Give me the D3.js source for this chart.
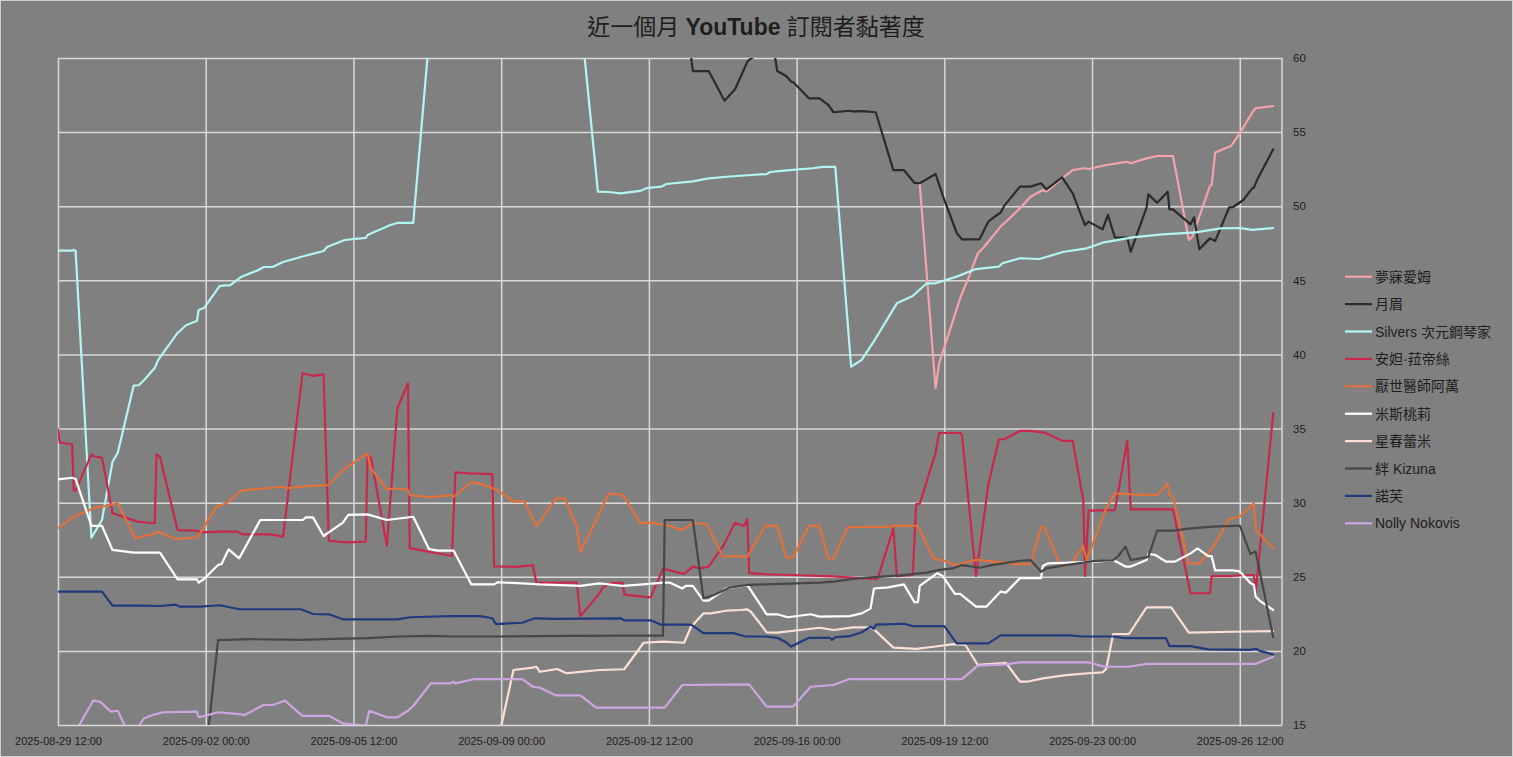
<!DOCTYPE html>
<html><head><meta charset="utf-8">
<script src="https://cdn.jsdelivr.net/npm/d3@7"></script>
<style>html,body{margin:0;padding:0;background:#808080;} svg{display:block;}</style>
</head><body><svg id="chart" width="1513" height="757"></svg>
<script>
const seriesNames = ["夢寐愛姆","月眉","Silvers 次元鋼琴家","安妲·菈帝絲","厭世醫師阿萬","米斯桃莉","星春蕾米","絆 Kizuna","諾芙","Nolly Nokovis"];
const seriesColors = ["#f4a3ac","#2b2b2b","#b3f5f5","#c8294a","#e3703a","#ffffff","#fde0d5","#474747","#1f3a7d","#cfa4e2"];

const dreammy = [["09-18 22",51.55],["09-19 07",37.72],["09-19 09",39.4],["09-19 17",42.32],["09-19 21",43.79],["09-20 02",45.25],["09-20 07",46.82],["09-20 10",47.16],["09-20 20",48.62],["09-20 21",48.73],["09-21 07",49.86],["09-21 13",50.64],["09-21 20",51.09],["09-21 22",50.98],["09-22 07",51.88],["09-22 13",52.44],["09-22 19",52.56],["09-22 22",52.51],["09-23 08",52.78],["09-23 20",53.0],["09-23 22",52.9],["09-24 07",53.23],["09-24 13",53.39],["09-24 22",53.39],["09-25 07",47.72],["09-25 09",47.94],["09-25 19",51.36],["09-25 20",51.43],["09-25 22",53.62],["09-26 07",54.06],["09-26 12",54.92],["09-26 19",56.31],["09-26 21",56.61],["09-27 07",56.76]];

const yuemei = [["09-13 11",61.0],["09-13 13",59.12],["09-13 22",59.12],["09-14 07",57.12],["09-14 13",57.89],["09-14 20",59.75],["09-14 21",59.87],["09-15 00",60.1],["09-15 06",61.0],["09-15 11",60.6],["09-15 13",59.12],["09-15 18",58.79],["09-15 21",58.4],["09-15 22",58.38],["09-16 07",57.28],["09-16 13",57.28],["09-16 18",56.83],["09-16 21",56.34],["09-17 06",56.44],["09-17 08",56.4],["09-17 13",56.42],["09-17 21",56.34],["09-18 07",52.44],["09-18 13",52.44],["09-18 19",51.57],["09-18 22",51.55],["09-19 07",52.17],["09-19 12",50.42],["09-19 19",48.21],["09-19 22",47.77],["09-20 08",47.77],["09-20 13",48.96],["09-20 18",49.41],["09-20 20",49.57],["09-20 22",50.02],["09-21 07",51.32],["09-21 13",51.32],["09-21 19",51.55],["09-21 22",51.14],["09-22 07",51.95],["09-22 13",50.87],["09-22 20",48.73],["09-22 22",48.96],["09-23 06",48.44],["09-23 09",49.41],["09-23 13",47.88],["09-23 20",47.88],["09-23 22",46.93],["09-24 07",49.93],["09-24 08",50.8],["09-24 13",50.24],["09-24 19",50.98],["09-24 20",49.79],["09-24 22",49.79],["09-25 08",48.77],["09-25 10",49.25],["09-25 13",47.09],["09-25 19",47.83],["09-25 22",47.65],["09-26 06",49.93],["09-26 08",49.93],["09-26 14",50.42],["09-26 19",51.2],["09-26 20",51.25],["09-26 22",51.82],["09-27 07",53.84]];

const silvers = [["08-29 12",47.0],["08-29 20",47.0],["08-29 21",47.05],["08-29 22",47.0],["08-30 07",27.64],["08-30 13",28.83],["08-30 19",32.76],["08-30 22",33.37],["08-31 07",37.89],["08-31 10",37.92],["08-31 13",38.28],["08-31 19",39.09],["08-31 21",39.63],["09-01 08",41.45],["09-01 13",41.99],["09-01 19",42.26],["09-01 20",43.0],["09-01 23",43.13],["09-02 08",44.62],["09-02 14",44.68],["09-02 20",45.22],["09-03 06",45.7],["09-03 09",45.9],["09-03 14",45.9],["09-03 20",46.24],["09-04 08",46.64],["09-04 19",46.98],["09-04 21",47.25],["09-05 07",47.72],["09-05 19",47.86],["09-05 20",48.06],["09-06 09",48.73],["09-06 13",48.87],["09-06 22",48.87],["09-07 07",61.3],["09-09 00",63.0],["09-10 18",66.6],["09-11 07",50.98],["09-11 13",50.96],["09-11 20",50.87],["09-12 07",51.03],["09-12 11",51.23],["09-12 19",51.32],["09-12 22",51.5],["09-13 13",51.68],["09-13 21",51.86],["09-14 08",51.99],["09-14 20",52.09],["09-15 07",52.17],["09-15 09",52.31],["09-15 20",52.44],["09-16 09",52.56],["09-16 15",52.65],["09-16 22",52.65],["09-17 07",39.17],["09-17 13",39.63],["09-17 21",41.09],["09-18 09",43.45],["09-18 13",43.67],["09-18 18",43.94],["09-19 02",44.8],["09-19 07",44.8],["09-19 19",45.25],["09-20 06",45.76],["09-20 19",45.92],["09-20 21",46.15],["09-21 07",46.49],["09-21 18",46.44],["09-22 08",46.93],["09-22 21",47.16],["09-23 06",47.54],["09-23 23",47.9],["09-24 16",48.1],["09-25 11",48.24],["09-26 01",48.51],["09-26 12",48.53],["09-26 19",48.4],["09-27 07",48.53]];

const anda = [["08-29 12",34.96],["08-29 13",34.06],["08-29 20",33.94],["08-29 21",30.81],["08-29 22",30.81],["08-30 07",33.26],["08-30 08",33.15],["08-30 13",33.03],["08-30 19",29.3],["08-31 09",28.72],["08-31 19",28.61],["08-31 20",33.26],["08-31 22",33.1],["09-01 08",28.15],["09-01 19",28.11],["09-01 21",28.0],["09-02 08",28.04],["09-02 18",28.04],["09-02 21",27.86],["09-03 13",27.86],["09-03 20",27.7],["09-04 07",38.73],["09-04 13",38.55],["09-04 19",38.66],["09-04 22",27.43],["09-05 08",27.32],["09-05 19",27.37],["09-05 20",33.2],["09-05 22",33.0],["09-06 07",27.1],["09-06 13",36.37],["09-06 19",38.06],["09-06 20",26.93],["09-07 20",26.4],["09-07 22",32.05],["09-08 06",31.98],["09-08 19",31.93],["09-08 20",25.7],["09-09 09",25.67],["09-09 18",25.79],["09-09 20",24.6],["09-10 19",24.6],["09-10 21",22.33],["09-11 08",23.9],["09-11 10",24.3],["09-11 14",24.55],["09-11 21",24.6],["09-11 22",23.8],["09-12 10",23.64],["09-12 13",23.61],["09-12 20",25.55],["09-13 08",25.19],["09-13 13",25.69],["09-13 17",25.57],["09-13 22",25.69],["09-14 06",27.03],["09-14 13",28.65],["09-14 18",28.43],["09-14 20",28.9],["09-14 21",25.24],["09-15 07",25.17],["09-15 20",25.12],["09-16 21",25.03],["09-17 12",24.9],["09-17 22",24.85],["09-18 07",28.27],["09-18 09",25.04],["09-18 18",25.12],["09-18 20",29.9],["09-18 22",29.92],["09-19 07",33.37],["09-19 09",34.7],["09-19 21",34.7],["09-19 22",34.6],["09-20 06",25.04],["09-20 13",31.2],["09-20 19",34.28],["09-20 22",34.28],["09-21 07",34.84],["09-21 13",34.84],["09-21 21",34.72],["09-22 07",34.17],["09-22 13",34.17],["09-22 19",30.18],["09-22 20",25.06],["09-22 22",29.46],["09-23 13",29.5],["09-23 20",34.17],["09-23 22",29.55],["09-24 22",29.55],["09-25 08",23.89],["09-25 19",23.89],["09-25 20",25.04],["09-26 07",25.04],["09-26 13",25.12],["09-26 20",25.12],["09-26 21",23.89],["09-27 07",36.02]];

const yanshi = [["08-29 12",28.27],["08-29 21",29.05],["08-30 08",29.61],["08-30 22",29.96],["08-31 08",27.59],["08-31 11",27.7],["08-31 18",27.88],["08-31 21",28.04],["09-01 07",27.55],["09-01 19",27.64],["09-01 21",27.97],["09-02 06",29.73],["09-02 12",29.96],["09-02 20",30.81],["09-03 07",30.94],["09-03 20",31.08],["09-03 22",30.97],["09-04 09",31.12],["09-04 22",31.19],["09-05 07",32.31],["09-05 12",32.69],["09-05 20",33.33],["09-05 22",32.31],["09-06 07",30.87],["09-06 11",30.97],["09-06 19",30.87],["09-06 20",30.5],["09-07 08",30.37],["09-07 19",30.5],["09-07 21",30.4],["09-08 07",31.39],["09-08 13",31.25],["09-08 22",30.85],["09-09 07",30.07],["09-09 13",30.11],["09-09 20",28.4],["09-10 07",30.25],["09-10 12",30.31],["09-10 19",28.43],["09-10 21",26.65],["09-11 07",29.09],["09-11 13",30.58],["09-11 19",30.58],["09-11 22",30.4],["09-12 07",28.61],["09-12 13",28.65],["09-12 22",28.49],["09-13 07",28.15],["09-13 13",28.61],["09-13 21",28.56],["09-14 06",26.36],["09-14 12",26.4],["09-14 20",26.36],["09-15 06",28.43],["09-15 13",28.43],["09-15 18",26.31],["09-15 22",26.31],["09-16 07",28.43],["09-16 13",28.43],["09-16 18",26.24],["09-16 21",26.24],["09-17 05",28.34],["09-18 05",28.38],["09-18 07",28.45],["09-18 21",28.43],["09-19 06",26.24],["09-19 12",26.08],["09-19 19",25.77],["09-20 05",26.13],["09-20 08",26.13],["09-20 16",26.02],["09-20 23",25.95],["09-21 05",25.84],["09-21 13",25.84],["09-21 19",28.34],["09-21 21",28.34],["09-22 06",25.79],["09-22 09",25.75],["09-22 13",26.02],["09-22 19",27.08],["09-22 21",26.13],["09-23 08",29.61],["09-23 13",30.63],["09-23 23",30.56],["09-24 13",30.51],["09-24 19",31.3],["09-24 20",30.51],["09-24 22",30.4],["09-25 07",25.9],["09-25 13",25.9],["09-25 21",27.03],["09-26 06",28.9],["09-26 12",29.07],["09-26 20",29.96],["09-26 21",28.18],["09-27 07",26.92]];

const misi = [["08-29 12",31.57],["08-29 20",31.68],["08-29 22",31.6],["08-30 07",28.43],["08-30 13",28.43],["08-30 19",26.81],["08-31 07",26.63],["08-31 22",26.63],["09-01 08",24.83],["09-01 19",24.83],["09-01 20",24.6],["09-01 23",24.85],["09-02 07",25.79],["09-02 09",25.86],["09-02 13",26.85],["09-02 19",26.24],["09-03 07",28.83],["09-04 07",28.83],["09-04 09",29.01],["09-04 13",29.01],["09-04 19",27.75],["09-05 06",28.65],["09-05 09",29.17],["09-05 20",29.21],["09-06 07",28.83],["09-06 22",29.05],["09-07 07",26.86],["09-07 12",26.76],["09-07 21",26.76],["09-08 07",24.49],["09-08 20",24.49],["09-08 22",24.63],["09-09 12",24.56],["09-09 22",24.49],["09-10 21",24.39],["09-11 08",24.56],["09-11 21",24.38],["09-12 07",24.47],["09-12 20",24.6],["09-13 00",24.6],["09-13 07",24.21],["09-13 09",24.38],["09-13 13",24.38],["09-13 19",23.39],["09-13 22",23.39],["09-14 08",24.21],["09-14 20",24.43],["09-15 07",22.47],["09-15 13",22.47],["09-15 19",22.27],["09-16 08",22.47],["09-16 13",22.31],["09-17 06",22.35],["09-17 13",22.53],["09-17 18",22.85],["09-17 20",24.21],["09-18 04",24.28],["09-18 13",24.49],["09-18 19",23.29],["09-18 21",23.29],["09-18 22",24.38],["09-19 08",25.24],["09-19 11",25.06],["09-19 18",23.84],["09-19 21",23.84],["09-20 06",22.99],["09-20 12",22.99],["09-20 20",24.0],["09-20 23",23.93],["09-21 07",24.91],["09-21 19",24.91],["09-21 20",25.73],["09-21 23",25.91],["09-23 03",26.02],["09-23 12",26.13],["09-23 19",25.69],["09-23 22",25.69],["09-24 07",26.13],["09-24 08",26.54],["09-24 12",26.47],["09-24 18",26.02],["09-24 23",26.02],["09-25 08",26.58],["09-25 12",26.92],["09-25 18",26.4],["09-25 20",26.4],["09-25 22",25.43],["09-26 08",25.43],["09-26 12",25.36],["09-26 18",24.58],["09-26 20",24.46],["09-26 21",23.66],["09-27 00",23.32],["09-27 07",22.76]];

const xingchun = [["09-08 21",13.3],["09-09 07",18.71],["09-09 18",18.87],["09-09 20",18.93],["09-09 22",18.59],["09-10 08",18.78],["09-10 13",18.49],["09-10 21",18.59],["09-11 08",18.71],["09-11 22",18.76],["09-12 09",20.55],["09-12 20",20.62],["09-13 08",20.55],["09-13 12",21.63],["09-13 19",22.53],["09-13 23",22.53],["09-14 08",22.71],["09-14 16",22.76],["09-14 20",22.8],["09-14 22",22.64],["09-15 07",21.25],["09-15 13",21.23],["09-16 02",21.41],["09-16 13",21.56],["09-16 21",21.41],["09-17 08",21.59],["09-17 18",21.59],["09-17 20",21.45],["09-18 07",20.22],["09-18 20",20.13],["09-19 06",20.28],["09-19 17",20.46],["09-20 00",20.4],["09-20 07",19.05],["09-20 23",19.2],["09-21 07",17.92],["09-21 11",17.92],["09-21 20",18.15],["09-22 09",18.37],["09-22 22",18.49],["09-23 06",18.55],["09-23 08",18.78],["09-23 12",21.14],["09-23 21",21.14],["09-24 07",22.94],["09-24 21",22.94],["09-25 07",21.23],["09-26 08",21.29],["09-27 07",21.34]];

const kizuna = [["09-02 00",13.0],["09-02 07",20.72],["09-03 01",20.79],["09-04 06",20.74],["09-05 01",20.81],["09-05 20",20.86],["09-06 14",20.97],["09-07 09",21.01],["09-07 19",20.97],["09-08 23",20.97],["09-10 13",21.01],["09-12 03",21.03],["09-12 20",21.03],["09-12 21",28.83],["09-13 13",28.83],["09-13 19",23.55],["09-14 01",23.77],["09-14 10",24.27],["09-14 20",24.45],["09-15 07",24.49],["09-16 13",24.6],["09-16 21",24.67],["09-17 08",24.85],["09-17 16",24.94],["09-18 11",25.1],["09-19 02",25.28],["09-19 09",25.46],["09-19 17",25.57],["09-19 22",25.79],["09-20 08",25.61],["09-20 15",25.79],["09-21 07",26.08],["09-21 13",26.13],["09-21 19",25.34],["09-21 22",25.57],["09-22 09",25.79],["09-23 01",26.06],["09-23 12",26.13],["09-23 15",26.4],["09-23 19",27.03],["09-23 22",26.13],["09-24 07",26.31],["09-24 08",26.36],["09-24 13",28.11],["09-24 22",28.11],["09-25 08",28.27],["09-25 21",28.38],["09-26 12",28.45],["09-26 18",26.54],["09-26 21",26.7],["09-27 07",20.93]];

const nuofu = [["08-29 12",24.0],["08-30 13",24.0],["08-30 19",23.05],["08-31 11",23.05],["08-31 22",23.03],["09-01 07",23.12],["09-01 09",22.99],["09-01 21",22.99],["09-02 08",23.08],["09-02 19",22.81],["09-04 06",22.81],["09-04 13",22.49],["09-04 22",22.47],["09-05 06",22.13],["09-06 13",22.13],["09-06 20",22.27],["09-07 19",22.35],["09-08 12",22.35],["09-08 19",22.2],["09-08 21",21.81],["09-09 12",21.9],["09-09 19",22.2],["09-10 06",22.16],["09-11 20",22.2],["09-11 22",22.06],["09-12 13",22.06],["09-12 19",21.77],["09-13 12",21.77],["09-13 19",21.2],["09-14 12",21.2],["09-14 19",20.97],["09-15 07",20.97],["09-15 13",20.88],["09-15 18",20.58],["09-15 21",20.29],["09-16 07",20.88],["09-16 19",20.88],["09-16 20",20.74],["09-16 22",20.92],["09-17 06",20.99],["09-17 13",21.26],["09-17 18",21.64],["09-17 20",21.49],["09-17 21",21.77],["09-18 13",21.83],["09-18 18",21.67],["09-19 12",21.67],["09-19 19",20.51],["09-20 13",20.51],["09-20 20",21.05],["09-22 12",21.05],["09-22 18",20.97],["09-23 12",20.97],["09-23 18",20.86],["09-24 18",20.86],["09-24 20",20.32],["09-25 08",20.32],["09-25 18",20.1],["09-26 18",20.07],["09-26 21",20.14],["09-27 00",19.98],["09-27 07",19.76]];

const nolly = [["08-29 12",12.5],["08-30 08",16.64],["08-30 12",16.57],["08-30 18",15.9],["08-30 22",15.96],["08-31 05",14.2],["08-31 13",15.45],["08-31 19",15.72],["09-01 00",15.86],["09-01 19",15.9],["09-01 20",15.52],["09-02 01",15.67],["09-02 07",15.86],["09-02 19",15.74],["09-02 22",15.67],["09-03 09",16.35],["09-03 14",16.35],["09-03 21",16.64],["09-04 07",15.62],["09-04 22",15.62],["09-05 06",15.11],["09-05 19",14.95],["09-05 21",15.96],["09-06 07",15.52],["09-06 13",15.52],["09-06 19",15.96],["09-06 22",16.28],["09-07 08",17.81],["09-07 19",17.81],["09-07 21",17.92],["09-07 22",17.81],["09-08 09",18.1],["09-09 12",18.1],["09-09 18",17.58],["09-09 22",17.52],["09-10 07",17.0],["09-10 21",17.0],["09-11 06",16.17],["09-12 21",16.17],["09-13 07",17.7],["09-14 21",17.74],["09-15 07",16.24],["09-15 22",16.24],["09-16 08",17.58],["09-16 21",17.7],["09-17 06",18.1],["09-19 22",18.1],["09-20 07",19.0],["09-20 23",19.09],["09-21 07",19.23],["09-22 22",19.23],["09-23 07",18.93],["09-23 21",18.93],["09-24 07",19.12],["09-26 21",19.12],["09-27 07",19.61]];

const xTickLabels = ["2025-08-29 12:00","2025-09-02 00:00","2025-09-05 12:00","2025-09-09 00:00","2025-09-12 12:00","2025-09-16 00:00","2025-09-19 12:00","2025-09-23 00:00","2025-09-26 12:00"];
const xDomain = ["2025-08-29 12:00","2025-09-27 12:00"];
const yTicks = [15,20,25,30,35,40,45,50,55,60];
const titleParts = [["近一個月 ",false],["YouTube",true],[" 訂閱者黏著度",false]];

const allSeries = [dreammy,yuemei,silvers,anda,yanshi,misi,xingchun,kizuna,nuofu,nolly];

const FONT = "'Liberation Sans','Noto Sans CJK TC',sans-serif";
const TEXT = "#1e1e1e";
const GRID = "#d9d9d9";
const L = 58, R = 1282, T = 58, B = 725;

const parseFull = d3.timeParse("%Y-%m-%d %H:%M");
const parsePt = d3.timeParse("%Y-%m-%d %H");
const x = d3.scaleTime().domain(xDomain.map(parseFull)).range([L, R]);
const y = d3.scaleLinear().domain([15, 60]).range([B, T]);

const svg = d3.select("#chart");
svg.append("rect").attr("x",0).attr("y",0).attr("width",1513).attr("height",757).attr("fill","#808080");
svg.append("rect").attr("x",0.5).attr("y",0.5).attr("width",1512).attr("height",756)
  .attr("fill","none").attr("stroke","#d0d0d0").attr("stroke-width",1);

// title
const title = svg.append("text").attr("x",756).attr("y",35).attr("text-anchor","middle")
  .attr("font-family",FONT).attr("font-size",23).attr("fill",TEXT);
title.selectAll("tspan").data(titleParts).join("tspan")
  .attr("font-weight",d=>d[1]?"bold":"normal").text(d=>d[0]);

const xTicks = xTickLabels.map(parseFull);

// grid
const gx = svg.append("g").attr("transform",`translate(0,${B})`)
  .call(d3.axisBottom(x).tickValues(xTicks).tickSize(-(B-T)).tickFormat(""));
gx.select(".domain").remove();
gx.selectAll("line").attr("stroke",GRID).attr("stroke-width",1.5);

const gy = svg.append("g").attr("transform",`translate(${L},0)`)
  .call(d3.axisLeft(y).tickValues(yTicks).tickSize(-(R-L)).tickFormat(""));
gy.select(".domain").remove();
gy.selectAll("line").attr("stroke",GRID).attr("stroke-width",1.5);

svg.append("line").attr("x1",R).attr("x2",R).attr("y1",T).attr("y2",B)
  .attr("stroke",GRID).attr("stroke-width",1.5);

// axis labels
const ax = svg.append("g").attr("transform",`translate(0,${B})`)
  .call(d3.axisBottom(x).tickValues(xTicks).tickSize(0).tickPadding(12).tickFormat(d3.timeFormat("%Y-%m-%d %H:%M")));
ax.select(".domain").remove();
ax.selectAll("text").attr("font-family",FONT).attr("font-size",11).attr("fill",TEXT);

const ay = svg.append("g").attr("transform",`translate(${R},0)`)
  .call(d3.axisRight(y).tickValues(yTicks).tickSize(0).tickPadding(11));
ay.select(".domain").remove();
ay.selectAll("text").attr("font-family",FONT).attr("font-size",11.5).attr("fill",TEXT);

// clip
svg.append("defs").append("clipPath").attr("id","plotclip")
  .append("rect").attr("x",L).attr("y",T).attr("width",R-L).attr("height",B-T);

const line = d3.line().x(d=>x(parsePt("2025-"+d[0]))).y(d=>y(d[1]));
svg.append("g").attr("clip-path","url(#plotclip)")
  .selectAll("path").data(allSeries).join("path")
  .attr("d",line).attr("fill","none")
  .attr("stroke",(d,i)=>seriesColors[i]).attr("stroke-width",2.2)
  .attr("stroke-linejoin","round").attr("stroke-linecap","round");

// legend
const lg = svg.append("g");
const items = lg.selectAll("g").data(seriesNames).join("g")
  .attr("transform",(d,i)=>`translate(1345,${276.7 + i*27.4})`);
items.append("line").attr("x1",0).attr("x2",27).attr("y1",0).attr("y2",0)
  .attr("stroke",(d,i)=>seriesColors[i]).attr("stroke-width",2.2);
items.append("text").attr("x",30).attr("y",0).attr("dy","0.36em")
  .attr("font-family",FONT).attr("font-size",14).attr("fill",TEXT).text(d=>d);
</script></body></html>
